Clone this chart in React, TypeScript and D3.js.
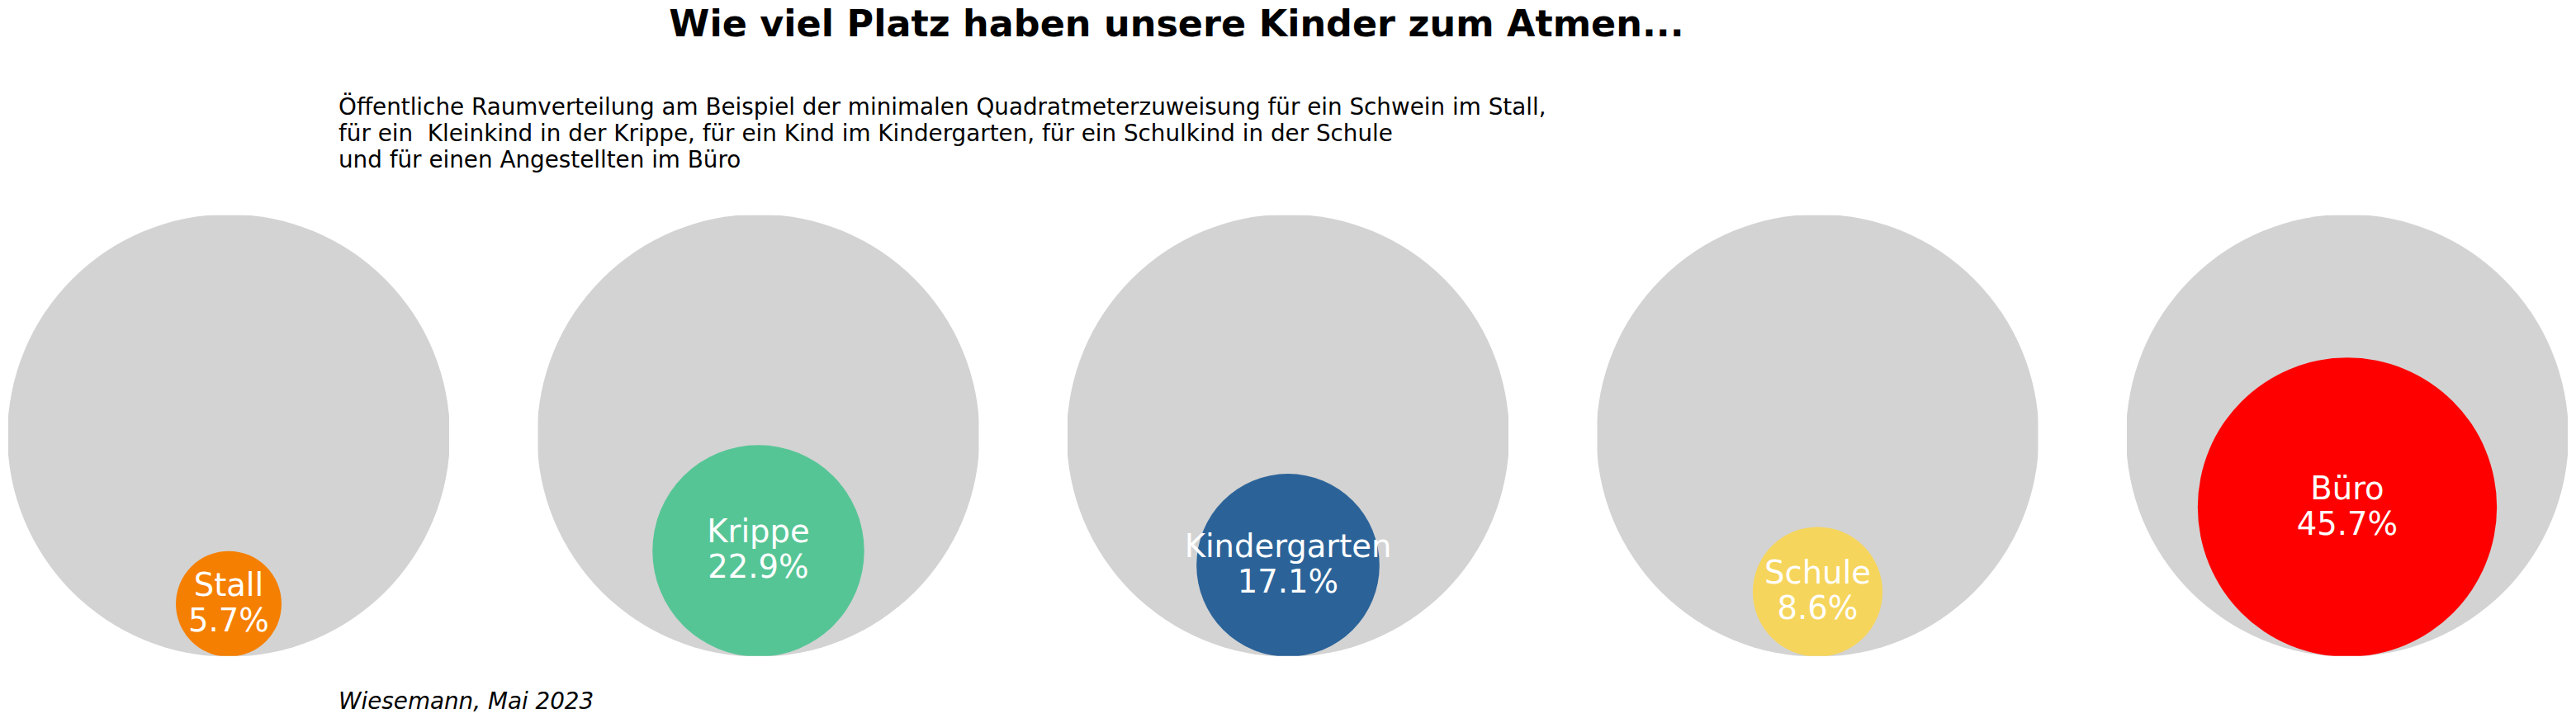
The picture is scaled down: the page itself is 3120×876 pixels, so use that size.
import React from "react";
import * as d3 from "d3";

const categories = ["Stall", "Krippe", "Kindergarten", "Schule", "Büro"];
const shares = [5.7, 22.9, 17.1, 8.6, 45.7];
const colors = ["#F57F00", "#56C596", "#2B6399", "#F6D55C", "#FF0000"];
const titleText = "Wie viel Platz haben unsere Kinder zum Atmen...";
const subtitleLines = [
  "Öffentliche Raumverteilung am Beispiel der minimalen Quadratmeterzuweisung für ein Schwein im Stall,",
  "für ein  Kleinkind in der Krippe, für ein Kind im Kindergarten, für ein Schulkind in der Schule",
  "und für einen Angestellten im Büro",
];
const footerText = "Wiesemann, Mai 2023";

const W = 3120;
const H = 876;
const R = 268;
const HALF = 267;
const CY = 527.7;
const FONT = "'DejaVu Sans', sans-serif";

export default function App() {
  const x = d3.scalePoint<string>().domain(categories).range([277, 2843]);
  const r = d3.scaleSqrt().domain([0, 100]).range([0, R]);

  return (
    <svg
      width={W}
      height={H}
      style={{ position: "absolute", left: 0, top: 0, background: "#fff" }}
      fontFamily={FONT}
    >
      <defs>
        {categories.map((c, i) => (
          <clipPath id={`clip-${i}`} key={c}>
            <rect x={(x(c) as number) - HALF} y={CY - HALF} width={HALF * 2} height={HALF * 2} />
          </clipPath>
        ))}
      </defs>
      <text x={1425} y={44} textAnchor="middle" fontSize={44.5} fontWeight="bold" fill="#000">
        {titleText}
      </text>
      {subtitleLines.map((t, i) => (
        <text key={i} x={410} y={138.5 + i * 32} fontSize={27.8} fill="#000" style={{ whiteSpace: "pre" }}>
          {t}
        </text>
      ))}
      {categories.map((c, i) => {
        const cx = x(c) as number;
        const ri = r(shares[i]);
        const cyi = CY + R - ri;
        return (
          <g key={c} clipPath={`url(#clip-${i})`}>
            <circle cx={cx} cy={CY} r={R} fill="#D3D3D3" />
            <circle cx={cx} cy={cyi} r={ri} fill={colors[i]} />
          </g>
        );
      })}
      {categories.map((c, i) => {
        const cx = x(c) as number;
        const ri = r(shares[i]);
        const cyi = CY + R - ri;
        return (
          <g key={`l-${c}`} fill="#fff" fontSize={38.5} textAnchor="middle">
            <text x={cx} y={cyi - 10}>{c}</text>
            <text x={cx} y={cyi + 33}>{`${shares[i].toFixed(1)}%`}</text>
          </g>
        );
      })}
      <text x={410} y={859} fontSize={27.8} fontStyle="italic" fill="#000">
        {footerText}
      </text>
    </svg>
  );
}
